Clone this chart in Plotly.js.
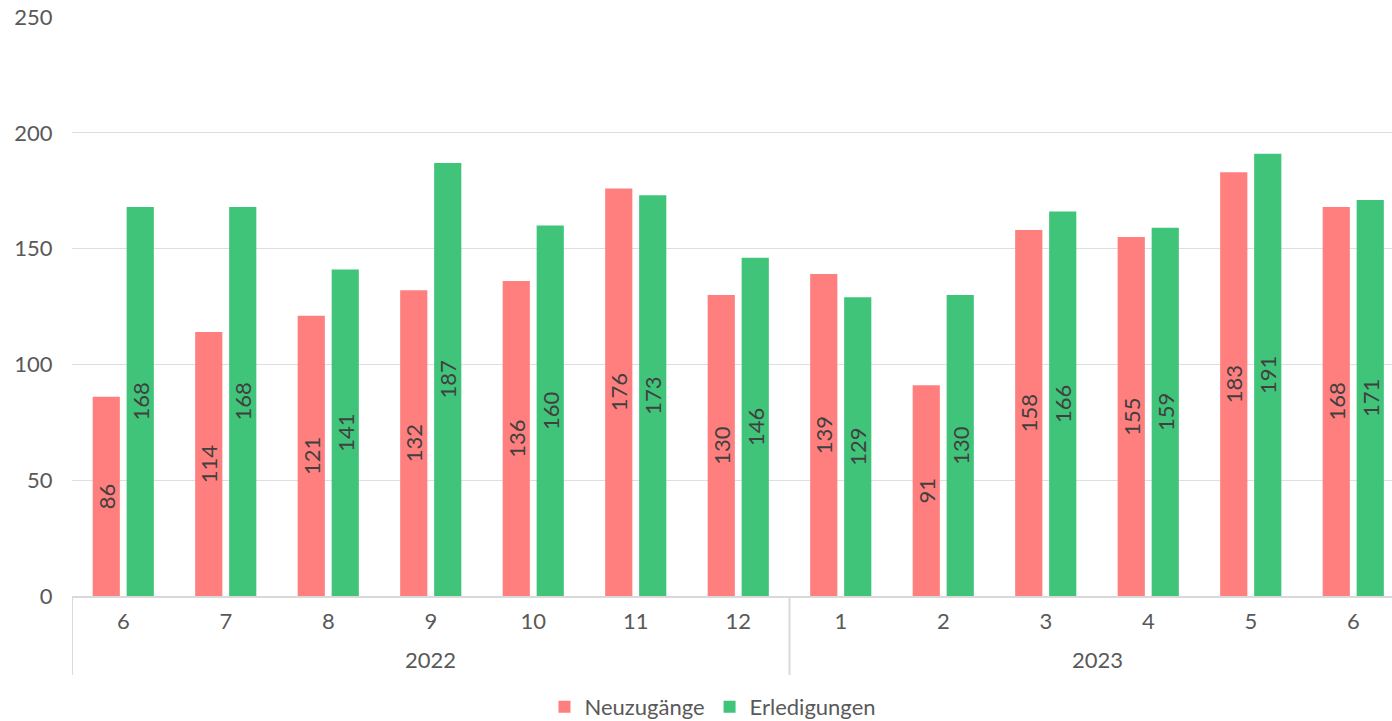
<!DOCTYPE html>
<html>
<head>
<meta charset="utf-8">
<script src="https://cdn.plot.ly/plotly-3.0.1.min.js"></script>
<style>html,body{margin:0;padding:0;background:#fff;}#chart{width:1392px;height:721px;}</style>
</head>
<body>
<div id="chart"></div>
<script>
const years = ["2022","2022","2022","2022","2022","2022","2022","2023","2023","2023","2023","2023","2023"];
const months = ["6","7","8","9","10","11","12","1","2","3","4","5","6"];
const neuzugaenge = [86,114,121,132,136,176,130,139,91,158,155,183,168];
const erledigungen = [168,168,141,187,160,173,146,129,130,166,159,191,171];
const yTicks = [0,50,100,150,200,250];

const font = "Lato, 'Open Sans', sans-serif";
const textCol = "#595959";
const idx = months.map((m, i) => i);

function barTrace(name, vals, color) {
  return {
    type: "bar",
    name: name,
    x: idx,
    y: vals,
    text: vals.map(String),
    textposition: "inside",
    insidetextanchor: "middle",
    constraintext: "none",
    textangle: -90,
    textfont: {family: font, size: 22, color: "#404040"},
    marker: {color: color},
    hoverinfo: "y"
  };
}

const data = [
  barTrace("Neuzugänge", neuzugaenge, "#FF7F7F"),
  barTrace("Erledigungen", erledigungen, "#40C47A")
];

// year groups: centre label and boundaries, derived from the years array
const groups = [];
years.forEach((y, i) => {
  const g = groups[groups.length - 1];
  if (g && g.year === y) g.end = i; else groups.push({year: y, start: i, end: i});
});
const divTop = 0, divBottom = -0.1364;
const shapes = [];
groups.forEach((g, k) => {
  if (k === 0) shapes.push({type: "line", xref: "x", yref: "paper", x0: g.start - 0.5, x1: g.start - 0.5, y0: divTop, y1: divBottom, line: {color: "#d9d9d9", width: 2}});
  shapes.push({type: "line", xref: "x", yref: "paper", x0: g.end + 0.5, x1: g.end + 0.5, y0: divTop, y1: divBottom, line: {color: "#d9d9d9", width: 2}});
});
const annotations = groups.map(g => ({
  xref: "x", yref: "paper", x: (g.start + g.end) / 2, y: -0.1105, yanchor: "middle",
  text: g.year, showarrow: false, font: {family: font, size: 22, color: textCol}
}));

const layout = {
  width: 1392,
  height: 721,
  margin: {l: 72, r: 0, t: 17, b: 125, autoexpand: false},
  paper_bgcolor: "#fff",
  plot_bgcolor: "#fff",
  font: {family: font, size: 22, color: textCol},
  barmode: "group",
  bargap: 0.337,
  bargroupgap: 0.2,
  showlegend: true,
  legend: {orientation: "h", x: 0.4856, xanchor: "center", yref: "container", y: 0.0194, yanchor: "middle", font: {family: font, size: 22, color: textCol}, itemwidth: 30, tracegroupgap: 0},
  shapes: shapes,
  annotations: annotations,
  xaxis: {
    type: "linear",
    range: [-0.5, 12.378],
    tickvals: idx,
    ticktext: months,
    showline: true,
    linecolor: "#d9d9d9",
    linewidth: 2,
    tickfont: {family: font, size: 22, color: textCol},
    showgrid: false,
    zeroline: false,
    ticks: "outside",
    ticklen: 5,
    tickcolor: "rgba(0,0,0,0)",
    automargin: false,
    fixedrange: true
  },
  yaxis: {
    range: [0, 250],
    tickvals: yTicks,
    ticktext: yTicks.map(String),
    showgrid: true,
    gridcolor: "rgba(160,160,160,0.35)",
    gridwidth: 1,
    zeroline: false,
    showline: false,
    layer: "above traces",
    tickfont: {family: font, size: 22, color: textCol},
    ticks: "outside",
    ticklen: 14,
    tickcolor: "rgba(0,0,0,0)",
    automargin: false,
    fixedrange: true
  }
};

Plotly.newPlot("chart", data, layout, {displayModeBar: false, staticPlot: true});
</script>
</body>
</html>
